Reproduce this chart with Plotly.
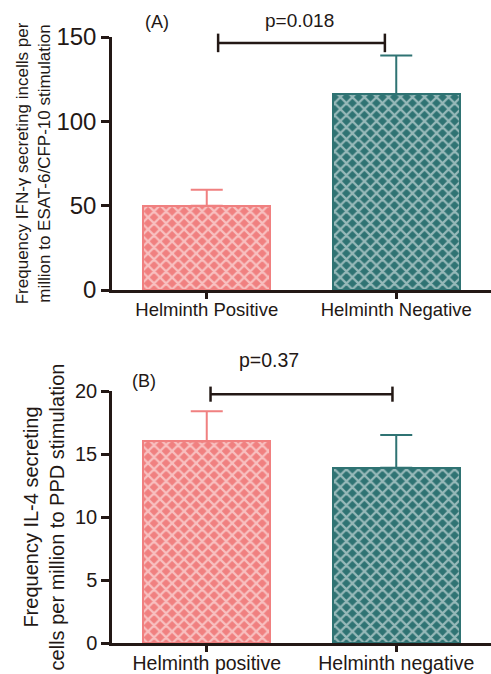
import plotly.graph_objects as go

# ---- data ----
cats_a = ["Helminth Positive", "Helminth Negative"]
vals_a = [50, 116]
err_a = [9.5, 23]
pval_a = "p=0.018"
bracket_a = 146.5
bracket_a_x = [0.06, 0.94]

cats_b = ["Helminth positive", "Helminth negative"]
vals_b = [16.0, 13.9]
err_b = [2.4, 2.6]
pval_b = "p=0.37"
bracket_b = 19.75
bracket_b_x = [0.02, 0.98]

colors = ["#F08080", "#2F7373"]
axis_color = "#231815"
W, H = 491, 674

fig = go.Figure()

def add_panel(cats, vals, errs, xa, ya):
    for i, (c, v, e) in enumerate(zip(cats, vals, errs)):
        fig.add_trace(go.Bar(
            x=[i], y=[v], width=0.67,
            marker=dict(color=colors[i],
                        line=dict(color=colors[i], width=2),
                        pattern=dict(shape="x", fgcolor="white", bgcolor=colors[i],
                                     size=8.5, solidity=0.45, fillmode="overlay")),
            error_y=dict(type="data", symmetric=False, array=[e], arrayminus=[0],
                         color=colors[i], thickness=2, width=16),
            xaxis=xa, yaxis=ya, showlegend=False, name=c))

add_panel(cats_a, vals_a, err_a, "x", "y")
add_panel(cats_b, vals_b, err_b, "x2", "y2")

XR = [-0.5, 1.5]
def xd(v):
    return (v - XR[0]) / (XR[1] - XR[0])

def bracket(ymax, yv, dy, xs, xaxis, yaxis):
    x0, x1 = xs
    yc = yv / ymax
    d = dy / ymax
    ln = dict(color=axis_color, width=2.5)
    fig.add_shape(type="line", xref=f"{xaxis} domain", yref=f"{yaxis} domain",
                  x0=xd(x0), x1=xd(x1), y0=yc, y1=yc, line=ln)
    for xx in (x0, x1):
        fig.add_shape(type="line", xref=f"{xaxis} domain", yref=f"{yaxis} domain",
                      x0=xd(xx), x1=xd(xx), y0=yc - d, y1=yc + d, line=ln)

bracket(150, bracket_a, 5.5, bracket_a_x, "x", "y")
bracket(20, bracket_b, 0.6, bracket_b_x, "x2", "y2")

def note(x, y, ymax, text, size, xaxis, yaxis):
    fig.add_annotation(x=xd(x), y=y / ymax, xref=f"{xaxis} domain", yref=f"{yaxis} domain",
                       xanchor="center", yanchor="middle",
                       text=text, showarrow=False, font=dict(size=size, color=axis_color))

note(0.49, 160, 150, pval_a, 19, "x", "y")
note(-0.26, 159, 150, "(A)", 18, "x", "y")
note(0.33, 22.5, 20, pval_b, 19.5, "x2", "y2")
note(-0.33, 20.8, 20, "(B)", 18, "x2", "y2")

x0d = 112 / W
common_x = dict(range=XR, showline=True, linewidth=2.5, linecolor=axis_color,
                ticks="outside", ticklen=6, tickwidth=2.5, tickcolor=axis_color,
                tickvals=[0, 1], showgrid=False, zeroline=False, domain=[x0d, 1],
                automargin=False, ticklabelstandoff=-5)
common_y = dict(showline=True, linewidth=2.5, linecolor=axis_color,
                ticks="outside", ticklen=8, tickwidth=2.5, tickcolor=axis_color,
                showgrid=False, zeroline=False, automargin=False)

fig.update_layout(
    width=W, height=H, margin=dict(l=0, r=0, t=0, b=0),
    plot_bgcolor="white", paper_bgcolor="white",
    font=dict(family="Liberation Sans, Arial", color=axis_color),
    bargap=0,
    xaxis=dict(**common_x, ticktext=cats_a, anchor="y",
               tickfont=dict(size=18.5)),
    yaxis=dict(**common_y, range=[0, 150], tickvals=[0, 50, 100, 150],
               domain=[1 - 290 / H, 1 - 37 / H], anchor="x",
               tickfont=dict(size=24),
               title=dict(text="Frequency IFN-γ secreting incells per<br>million to ESAT-6/CFP-10 stimulation",
                          font=dict(size=17), standoff=2)),
    xaxis2=dict(**common_x, ticktext=cats_b, anchor="y2",
                tickfont=dict(size=19.5)),
    yaxis2=dict(**common_y, range=[0, 20], tickvals=[0, 5, 10, 15, 20],
                domain=[1 - 643 / H, 1 - 391 / H], anchor="x2",
                tickfont=dict(size=20),
                title=dict(text="Frequency IL-4 secreting<br>cells per million to PPD stimulation",
                           font=dict(size=20), standoff=6)),
)

fig.write_html("out.html", config={"displayModeBar": False},
               post_script="document.body.style.margin='0';document.body.style.overflow='hidden';")
